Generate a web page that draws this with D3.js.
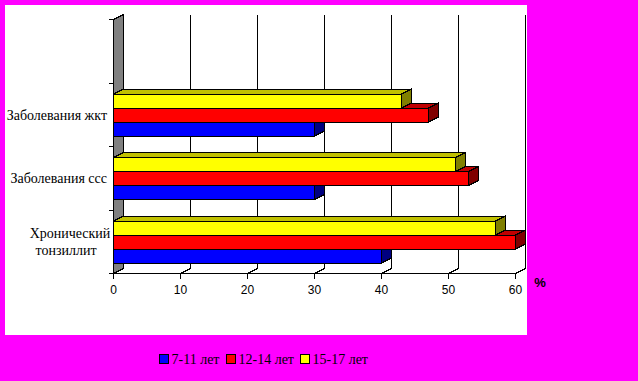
<!DOCTYPE html>
<html>
<meta charset="utf-8">
<style>
body { margin: 0; background: #ff00ff; }
svg { display: block; }
.axis-num { font: 12px "Liberation Sans", Arial, sans-serif; }
.cat { font: 14px "Liberation Serif", "Times New Roman", serif; }
.leg { font: 14px "Liberation Serif", "Times New Roman", serif; }
</style>
<body>
<script src="https://d3js.org/d3.v7.min.js"></script>
<script>
// categories top to bottom (top slot is empty in the original)
var categories = ["", "Заболевания жкт", "Заболевания ссс", "Хронический тонзиллит"];
var series = ["7-11 лет", "12-14 лет", "15-17 лет"];
var vals711 = [null, 30, 30, 40];
var vals1214 = [null, 47, 53, 60];
var vals1517 = [null, 43, 51, 57];
var xTicks = [0, 10, 20, 30, 40, 50, 60];

var colors = {
	"7-11 лет":  {front: "#0000ff", top: "#0000c0", side: "#000080"},
	"12-14 лет": {front: "#ff0000", top: "#c00000", side: "#800000"},
	"15-17 лет": {front: "#ffff00", top: "#c0c000", side: "#808000"}
};
var valuesBySeries = {"7-11 лет": vals711, "12-14 лет": vals1214, "15-17 лет": vals1517};

var W = 638, H = 381;
var dx = 10, dy = -5;   // 3d depth offset

var svg = d3.select("body").append("svg")
	.attr("width", W).attr("height", H)
	.style("shape-rendering", "crispEdges");

svg.append("rect").attr("width", W).attr("height", H).attr("fill", "#ff00ff");
svg.append("rect").attr("x", 5).attr("y", 5).attr("width", 522).attr("height", 330).attr("fill", "#fff");

var x = d3.scaleLinear().domain([0, 60]).range([113.5, 515.5]);
var y = d3.scaleBand().domain(categories).range([19.5, 273.5]);
// within a band: yellow on top, blue at the bottom
var inner = d3.scaleBand().domain(["15-17 лет", "12-14 лет", "7-11 лет"]).range([11, 53]);
var y0 = 273.5, yTop = 19.5;

function pts(a) { return a.map(function(p) { return p.join(","); }).join(" "); }

// back gridlines and floor steps
xTicks.slice(1).forEach(function(t) {
	svg.append("line")
		.attr("x1", x(t) + dx).attr("x2", x(t) + dx)
		.attr("y1", yTop + dy).attr("y2", y0 + dy)
		.attr("stroke", "#000");
	svg.append("line")
		.attr("x1", x(t)).attr("y1", y0)
		.attr("x2", x(t) + dx).attr("y2", y0 + dy)
		.attr("stroke", "#000");
});

// grey side wall
svg.append("polygon")
	.attr("points", pts([[x(0), y0], [x(0), yTop], [x(0) + dx, yTop + dy], [x(0) + dx, y0 + dy]]))
	.attr("fill", "#808080").attr("stroke", "#000");

// x axis line + ticks
svg.append("line").attr("x1", x(0)).attr("x2", x(60)).attr("y1", y0).attr("y2", y0).attr("stroke", "#000");
xTicks.forEach(function(t) {
	svg.append("line").attr("x1", x(t)).attr("x2", x(t)).attr("y1", y0).attr("y2", y0 + 5).attr("stroke", "#000");
	svg.append("text").attr("class", "axis-num")
		.attr("x", x(t)).attr("y", y0 + 20)
		.attr("text-anchor", "middle").text(t);
});

// y ticks on band boundaries
var bounds = categories.map(function(c) { return y(c); }).concat([y0]);
bounds.forEach(function(b) {
	svg.append("line").attr("x1", x(0) - 5).attr("x2", x(0)).attr("y1", b).attr("y2", b).attr("stroke", "#000");
});

// bars: bottom series first so the upper bar hides the lower top face
var drawOrder = ["7-11 лет", "12-14 лет", "15-17 лет"];
categories.forEach(function(cat, ci) {
	drawOrder.forEach(function(s) {
		var v = valuesBySeries[s][ci];
		if (v == null) return;
		var c = colors[s];
		var x0 = x(0), x1 = Math.round(x(v) - 0.5) + 0.5;
		var t = y(cat) + inner(s), b = t + inner.bandwidth();
		var g = svg.append("g").attr("stroke", "#000");
		g.append("polygon").attr("fill", c.top)
			.attr("points", pts([[x0, t], [x0 + dx, t + dy], [x1 + dx, t + dy], [x1, t]]));
		g.append("polygon").attr("fill", c.side)
			.attr("points", pts([[x1, t], [x1 + dx, t + dy], [x1 + dx, b + dy], [x1, b]]));
		g.append("rect").attr("fill", c.front)
			.attr("x", x0).attr("y", t).attr("width", x1 - x0).attr("height", b - t);
	});
});

// category labels
categories.forEach(function(cat) {
	if (!cat) return;
	var cy = y(cat) + y.bandwidth() / 2;
	if (cat === "Хронический тонзиллит") {
		var tx = svg.append("text").attr("class", "cat").attr("text-anchor", "middle");
		tx.append("tspan").attr("x", 70).attr("y", cy - 4).text("Хронический");
		tx.append("tspan").attr("x", 66).attr("y", cy + 13).text("тонзиллит");
	} else {
		svg.append("text").attr("class", "cat")
			.attr("x", 107).attr("y", cy + 5)
			.attr("text-anchor", "end").text(cat);
	}
});

// unit label
svg.append("text")
	.attr("x", 540).attr("y", 287)
	.attr("text-anchor", "middle")
	.style("font", "bold 13px 'Liberation Sans', Arial, sans-serif")
	.text("%");

// legend
var legX = [159.5, 226.5, 300.5];
series.forEach(function(s, i) {
	svg.append("rect")
		.attr("x", legX[i]).attr("y", 354.5).attr("width", 9).attr("height", 9)
		.attr("fill", colors[s].front).attr("stroke", "#000");
	svg.append("text").attr("class", "leg")
		.attr("x", legX[i] + 12).attr("y", 364)
		.text(s);
});
</script>
</body>
</html>
